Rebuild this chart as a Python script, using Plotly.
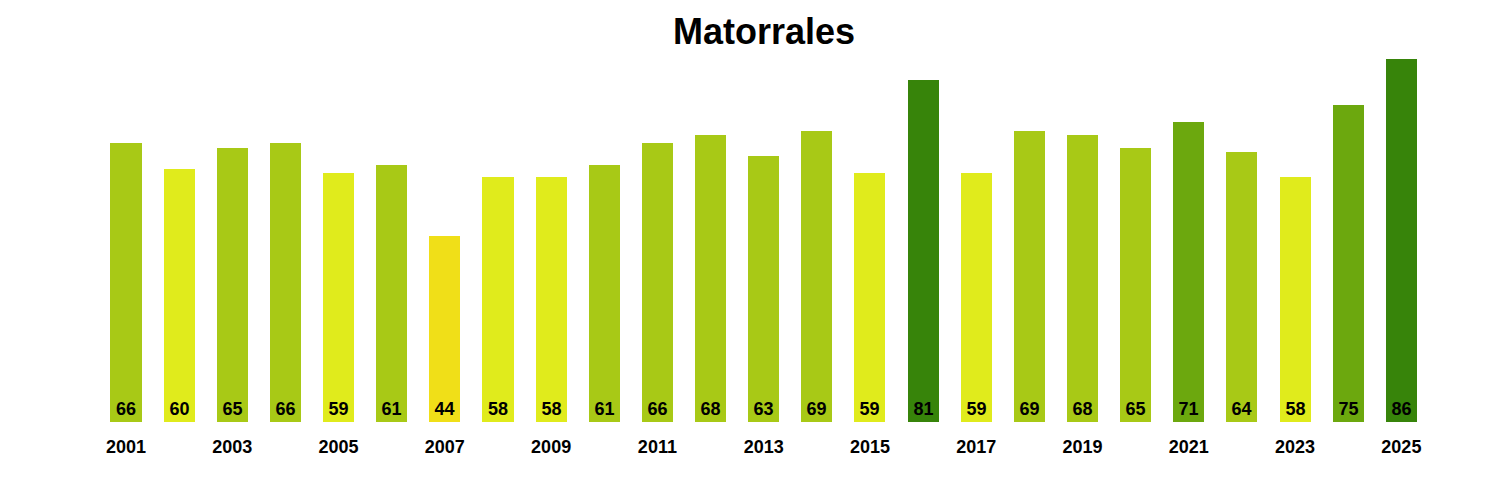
import plotly.graph_objects as go

years = list(range(2001, 2026))
values = [66, 60, 65, 66, 59, 61, 44, 58, 58, 61, 66, 68, 63, 69, 59, 81, 59, 69, 68, 65, 71, 64, 58, 75, 86]
tick_years = list(range(2001, 2026, 2))
tick_labels = [str(y) for y in tick_years]


def color_for(v):
    if v < 50:
        return "#F0DF18"
    if v <= 60:
        return "#E0EB1C"
    if v <= 69:
        return "#A8C916"
    if v <= 79:
        return "#6CA80E"
    return "#37840A"


colors = [color_for(v) for v in values]

OFF = 8  # page body margin

fig = go.Figure(
    go.Bar(
        x=years,
        y=values,
        width=0.584,
        marker=dict(color=colors, line=dict(width=0)),
        text=[str(v) for v in values],
        textposition="inside",
        insidetextanchor="start",
        textangle=0,
        textfont=dict(family="Liberation Sans, Arial, sans-serif", size=18, color="black", weight="bold"),
        constraintext="none",
        hoverinfo="x+y",
    )
)

fig.update_layout(
    width=1500,
    height=500,
    paper_bgcolor="white",
    plot_bgcolor="white",
    margin=dict(l=20 - OFF, r=20 + OFF, t=55 - OFF, b=78 + OFF),
    showlegend=False,
    bargap=0,
    title=dict(
        text="<b>Matorrales</b>",
        x=(764 - OFF) / 1500,
        xref="container",
        xanchor="center",
        y=1 - (31 - OFF) / 500,
        yref="container",
        yanchor="middle",
        font=dict(family="Liberation Sans, Arial, sans-serif", size=36, color="black"),
    ),
)

fig.update_xaxes(
    range=[2001 - 106 / 53.14, 2001 + 1354 / 53.14],
    tickmode="array",
    tickvals=tick_years,
    ticktext=tick_labels,
    showgrid=False,
    zeroline=False,
    showline=False,
    ticks="outside",
    ticklen=8,
    tickcolor="white",
    tickfont=dict(family="Liberation Sans, Arial, sans-serif", size=18, color="black", weight="bold"),
)
fig.update_yaxes(
    range=[0, 86 * 367 / 363],
    showgrid=False,
    zeroline=False,
    showline=False,
    showticklabels=False,
    ticks="",
)

fig.write_html("out.html")
